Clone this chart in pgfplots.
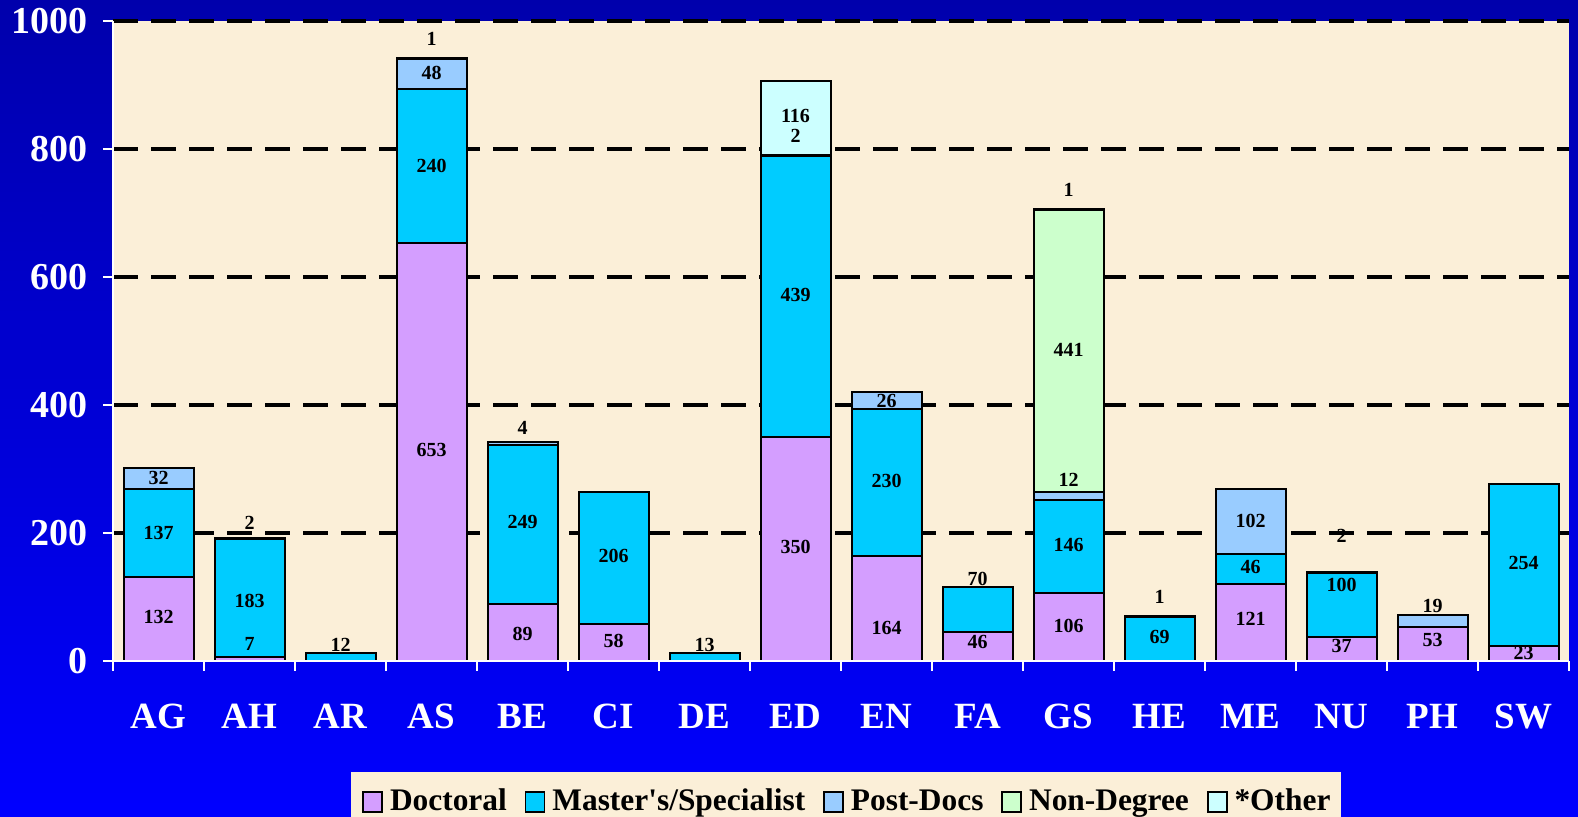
\documentclass[border=0pt]{standalone}
\usepackage{fontspec}
\setmainfont{Liberation Serif}
\usepackage{pgfplots}
\pgfplotsset{compat=1.18}

\definecolor{docc}{HTML}{D49EFF}
\definecolor{masc}{HTML}{00CCFF}
\definecolor{postc}{HTML}{99CCFF}
\definecolor{nonc}{HTML}{CCFFCC}
\definecolor{othc}{HTML}{CCFFFF}
\definecolor{plotbg}{HTML}{FBEFD8}

\pgfplotsset{
  sq/.style={legend image code/.code={
    \draw[##1,draw=black,line width=0.8pt] (0pt,-1pt) rectangle (9.5pt,9pt);}},
  frame/.style={at={(0,0)}, anchor=south west, scale only axis,
    width=728pt, height=320pt, xmin=-0.5, xmax=15.5, ymin=0, ymax=1000},
}

\begin{document}
\begin{tikzpicture}
\shade[top color={rgb,255:red,0;green,0;blue,172}, middle color={rgb,255:red,0;green,0;blue,238},
  bottom color={rgb,255:red,0;green,0;blue,255}] (-56.5pt,-78pt) rectangle (732.5pt,330.5pt);
% bars, background and grid
\begin{axis}[frame,
  ybar stacked, bar width=35pt,
  axis background/.style={fill=plotbg},
  axis line style={draw=none},
  xtick=\empty,
  ytick={200,400,...,1000}, yticklabels={},
  major tick length=0pt,
  ymajorgrids, grid style={black, line width=2pt, dash pattern=on 12.5pt off 6.5pt},
  every axis plot/.append style={draw=black, line width=1pt},
  legend columns=-1,
  legend style={at={(0.5,-0.1734)}, anchor=north west, xshift=-245pt,
    fill=plotbg, draw=none,
    inner xsep=5.5pt, inner ysep=8pt,
    font=\bfseries\fontsize{15.7}{18}\selectfont,
    nodes={inner sep=0pt, anchor=base west},
    /tikz/every odd column/.append style={column sep=3.5pt},
    /tikz/every even column/.append style={column sep=9pt}},
]
\addplot[fill=docc, sq] coordinates {(0,132)(1,7)(2,0)(3,653)(4,89)(5,58)(6,0)(7,350)
  (8,164)(9,46)(10,106)(11,0)(12,121)(13,37)(14,53)(15,23)};
\addlegendentry{Doctoral}
\addplot[fill=masc, sq] coordinates {(0,137)(1,183)(2,12)(3,240)(4,249)(5,206)(6,13)(7,439)
  (8,230)(9,70)(10,146)(11,69)(12,46)(13,100)(14,0)(15,254)};
\addlegendentry{Master\textquotesingle s/Specialist}
\addplot[fill=postc, sq] coordinates {(0,32)(1,2)(2,0)(3,48)(4,4)(5,0)(6,0)(7,2)
  (8,26)(9,0)(10,12)(11,1)(12,102)(13,2)(14,19)(15,0)};
\addlegendentry{Post-Docs}
\addplot[fill=nonc, sq] coordinates {(0,0)(1,0)(2,0)(3,1)(4,0)(5,0)(6,0)(7,0)
  (8,0)(9,0)(10,441)(11,0)(12,0)(13,0)(14,0)(15,0)};
\addlegendentry{Non-Degree}
\addplot[fill=othc, sq] coordinates {(0,0)(1,0)(2,0)(3,0)(4,0)(5,0)(6,0)(7,116)
  (8,0)(9,0)(10,1)(11,0)(12,0)(13,0)(14,0)(15,0)};
\addlegendentry{*Other}
\end{axis}

% axis lines, ticks, tick labels and value labels
\begin{axis}[frame,
  axis lines=left, axis line style={white, line width=1pt, -},
  xtick={0,...,15},
  xticklabels={AG,AH,AR,AS,BE,CI,DE,ED,EN,FA,GS,HE,ME,NU,PH,SW},
  ytick={0,200,...,1000},
  /pgf/number format/1000 sep={},
  /pgf/number format/assume math mode=true,
  tick align=outside,
  major tick length=5pt, minor tick length=5pt,
  major x tick style={draw=none},
  minor xtick={-0.5,0.5,...,15.5},
  minor x tick style={white, line width=1pt},
  ytick style={white, line width=1pt},
  tick label style={white},
  xticklabel style={yshift=-13pt, font=\fontsize{18.5}{22}\selectfont\bfseries},
  yticklabel style={xshift=-4pt, font=\fontsize{19}{22}\selectfont\bfseries},
]
\addplot[draw=none, mark=none, nodes near coords, point meta=explicit symbolic,
  nodes near coords align=center,
  every node near coord/.style={black, inner sep=0pt, font=\fontsize{10}{12}\selectfont\bfseries}]
coordinates {
  (0,68)[132] (0,200)[137] (0,286)[32]
  (1,27)[7] (1,94)[183] (1,216)[2]
  (2,25)[12]
  (3,330)[653] (3,773)[240] (3,919)[48] (3,972)[1]
  (4,42)[89] (4,217)[249] (4,364)[4]
  (5,31)[58] (5,164)[206]
  (6,25)[13]
  (7,178)[350] (7,572)[439] (7,820)[2] (7,852)[116]
  (8,52)[164] (8,281)[230] (8,406)[26]
  (9,30)[46] (9,128)[70]
  (10,55)[106] (10,181)[146] (10,283)[12] (10,486)[441] (10,736)[1]
  (11,37)[69] (11,100)[1]
  (12,66)[121] (12,147)[46] (12,219)[102]
  (13,23)[37] (13,119)[100] (13,195)[2]
  (14,33)[53] (14,86)[19]
  (15,12)[23] (15,153)[254]
};
\end{axis}
\pgfresetboundingbox
\path[use as bounding box] (-56.5pt,-78pt) rectangle (732.5pt,330.5pt);
\end{tikzpicture}
\end{document}
